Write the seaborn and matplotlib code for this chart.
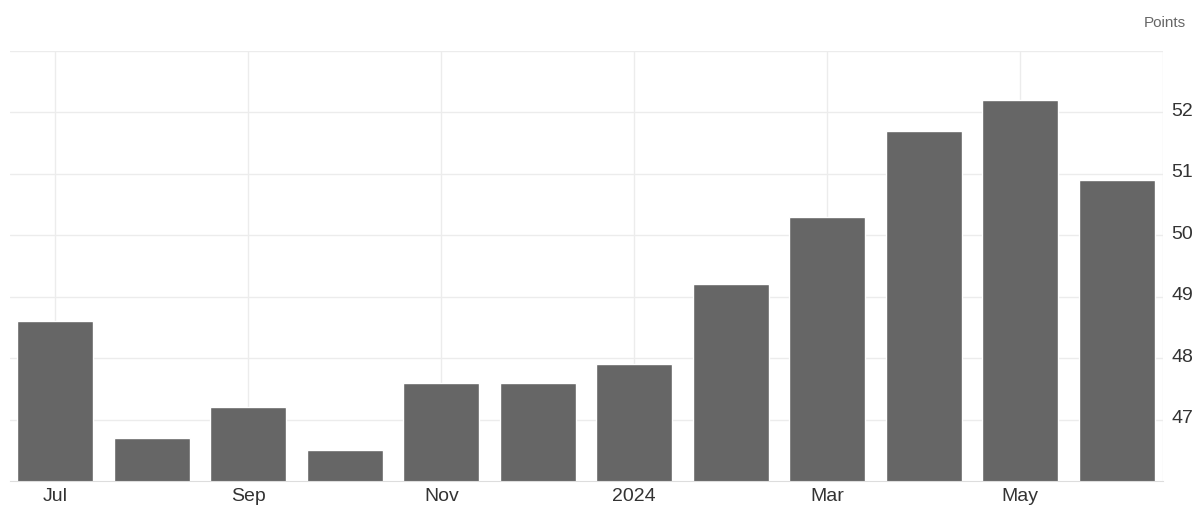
import matplotlib
matplotlib.use("Agg")
import matplotlib.pyplot as plt
import matplotlib.transforms as mtransforms
import pandas as pd
import seaborn as sns

# monthly values, Jul 2023 - Jun 2024
months = ["Jul", "Aug", "Sep", "Oct", "Nov", "Dec",
          "Jan", "Feb", "Mar", "Apr", "May", "Jun"]
values = [48.6, 46.7, 47.2, 46.5, 47.6, 47.6,
          47.9, 49.2, 50.3, 51.7, 52.2, 50.9]
tick_labels = ["Jul", "", "Sep", "", "Nov", "", "2024", "", "Mar", "", "May", ""]
y_ticks = [47, 48, 49, 50, 51, 52]

df = pd.DataFrame({"month": months, "value": values})

sns.set_style("white")
plt.rcParams["font.family"] = ["Liberation Sans", "DejaVu Sans"]

fig = plt.figure(figsize=(11.95, 5.06), dpi=100)
ax = fig.add_axes([10 / 1195, 24 / 506, 1153 / 1195, 430 / 506])

sns.barplot(data=df, x="month", y="value", color="#666666", width=0.79,
            saturation=1, ax=ax, zorder=3)

ax.set_ylim(46, 53)
ax.set_xlim(-0.47, 11.48)

# grid: horizontal at every point, vertical only under labelled months
grid_col = "#ececec"
for v in range(47, 54):
    ax.axhline(v, color=grid_col, lw=1, zorder=1)
for i, lab in enumerate(tick_labels):
    if lab:
        ax.axvline(i, color=grid_col, lw=1, zorder=1)
ax.axvline(11.48, color=grid_col, lw=1, zorder=1)

for s in ["top", "left", "right"]:
    ax.spines[s].set_visible(False)
ax.spines["bottom"].set_color("#dddddd")
ax.spines["bottom"].set_zorder(4)

ax.set_xticks(range(len(months)))
ax.set_xticklabels(tick_labels)
ax.yaxis.tick_right()
ax.set_yticks(y_ticks)
ax.set_yticklabels([str(t) for t in y_ticks])
ax.tick_params(axis="both", length=0, labelsize=14, colors="#333333")
ax.tick_params(axis="x", pad=4)
ax.tick_params(axis="y", pad=6)

# y labels sit slightly above their gridline
shift = mtransforms.ScaledTranslation(0, 4 / 100, fig.dpi_scale_trans)
for lab in ax.get_yticklabels():
    lab.set_transform(lab.get_transform() + shift)

ax.set_xlabel("")
ax.set_ylabel("")

fig.text(1186 / 1195, 1 - 23 / 506, "Points", ha="right", va="center",
         fontsize=11, color="#666666")

fig.savefig("out.png", dpi=100)
